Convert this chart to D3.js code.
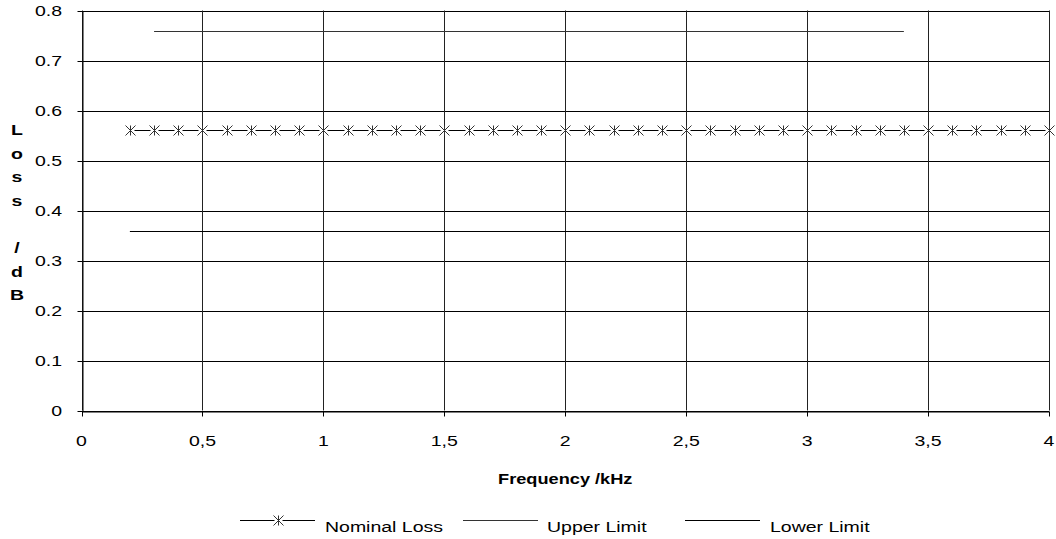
<!DOCTYPE html>
<html>
<head>
<meta charset="utf-8">
<script src="https://cdn.jsdelivr.net/npm/d3@7/dist/d3.min.js"></script>
<style>
  html, body { margin: 0; padding: 0; background: #fff; }
  svg { display: block; }
  text { font-family: "Liberation Sans", Arial, sans-serif; fill: #000; }
</style>
</head>
<body>
<svg id="chart" width="1056" height="539"></svg>
<script>
// ---- data ----
const nominalFreq = [0.2, 0.3, 0.4, 0.5, 0.6, 0.7, 0.8, 0.9, 1.0, 1.1, 1.2, 1.3, 1.4, 1.5, 1.6, 1.7, 1.8, 1.9, 2.0,
                     2.1, 2.2, 2.3, 2.4, 2.5, 2.6, 2.7, 2.8, 2.9, 3.0, 3.1, 3.2, 3.3, 3.4, 3.5, 3.6, 3.7, 3.8, 3.9, 4.0];
const nominalLoss = [0.56, 0.56, 0.56, 0.56, 0.56, 0.56, 0.56, 0.56, 0.56, 0.56, 0.56, 0.56, 0.56, 0.56, 0.56, 0.56, 0.56, 0.56, 0.56,
                     0.56, 0.56, 0.56, 0.56, 0.56, 0.56, 0.56, 0.56, 0.56, 0.56, 0.56, 0.56, 0.56, 0.56, 0.56, 0.56, 0.56, 0.56, 0.56, 0.56];
const upperFreq = [0.3, 3.4];
const upperLimit = [0.76, 0.76];
const lowerFreq = [0.2, 4.0];
const lowerLimit = [0.36, 0.36];

const xTicks = [0, 0.5, 1, 1.5, 2, 2.5, 3, 3.5, 4];
const xTickLabels = ["0", "0,5", "1", "1,5", "2", "2,5", "3", "3,5", "4"];
const yTicks = [0, 0.1, 0.2, 0.3, 0.4, 0.5, 0.6, 0.7, 0.8];
const yTickLabels = ["0", "0.1", "0.2", "0.3", "0.4", "0.5", "0.6", "0.7", "0.8"];
const seriesNames = ["Nominal Loss", "Upper Limit", "Lower Limit"];
const xTitle = "Frequency /kHz";
const yTitle = "Loss /dB";

// ---- layout ----
const svg = d3.select("#chart");
const L = 81.5, R = 1049, T = 10.5, B = 410.5;
const x = d3.scaleLinear().domain([0, 4]).range([L, R]);
const y = d3.scaleLinear().domain([0, 0.8]).range([B, T]);
const SX = 1.3; // horizontal stretch of the reference text
const px = v => Math.round(v) + 0.5;

// gridlines
svg.append("g").selectAll("line").data(yTicks).join("line")
  .attr("x1", L).attr("x2", R)
  .attr("y1", d => px(y(d))).attr("y2", d => px(y(d)))
  .attr("stroke", "#000").attr("stroke-width", 1);
svg.append("g").selectAll("line").data(xTicks).join("line")
  .attr("x1", d => px(x(d))).attr("x2", d => px(x(d)))
  .attr("y1", T).attr("y2", B)
  .attr("stroke", "#222").attr("stroke-width", 1);

// axes (lines and ticks)
const xAxis = svg.append("g").attr("transform", `translate(0,${px(B)})`)
  .call(d3.axisBottom(x).tickValues(xTicks).tickSize(5).tickSizeOuter(0).tickFormat(""));
const yAxis = svg.append("g").attr("transform", `translate(${px(L)},0)`)
  .call(d3.axisLeft(y).tickValues(yTicks).tickSize(5).tickSizeOuter(0).tickFormat(""));
[xAxis, yAxis].forEach(a => {
  a.select(".domain").attr("stroke", "#000");
  a.selectAll(".tick line").attr("stroke", "#000");
});
xAxis.selectAll(".tick").attr("transform", d => `translate(${px(x(d))},0)`);
yAxis.selectAll(".tick").attr("transform", d => `translate(0,${px(y(d))})`);

// tick labels
function stretchedText(g, tx, ty, str, anchor, size, weight) {
  return g.append("text")
    .attr("transform", `translate(${tx},${ty}) scale(${SX},1)`)
    .attr("text-anchor", anchor)
    .attr("dominant-baseline", "central")
    .attr("font-size", size)
    .attr("font-weight", weight || "normal")
    .text(str);
}
const labels = svg.append("g");
xTicks.forEach((v, i) => stretchedText(labels, x(v), 441, xTickLabels[i], "middle", 15));
yTicks.forEach((v, i) => stretchedText(labels, 62, y(v), yTickLabels[i], "end", 15));

// axis titles
stretchedText(labels, (L + R) / 2, 479, xTitle, "middle", 14, "bold");
yTitle.split("").forEach((c, i) => {
  if (c !== " ") stretchedText(labels, 17, 130 + i * 23.6, c, "middle", 15, "bold");
});

// series
const line = d3.line().x(d => x(d[0])).y(d => px(y(d[1])));
svg.append("path").datum(upperFreq.map((f, i) => [f, upperLimit[i]]))
  .attr("d", line).attr("fill", "none").attr("stroke", "#333").attr("stroke-width", 1);
svg.append("path").datum(lowerFreq.map((f, i) => [f, lowerLimit[i]]))
  .attr("d", line).attr("fill", "none").attr("stroke", "#000").attr("stroke-width", 1);
svg.append("path").datum(nominalFreq.map((f, i) => [f, nominalLoss[i]]))
  .attr("d", line).attr("fill", "none").attr("stroke", "#000").attr("stroke-width", 1);

function asterisk(g, cx, cy) {
  const s = 5;
  const p = `M${cx - s},${cy - s}L${cx + s},${cy + s}M${cx - s},${cy + s}L${cx + s},${cy - s}M${cx},${cy - s}L${cx},${cy + s}`;
  g.append("rect").attr("x", cx - 4).attr("y", cy - 1).attr("width", 8).attr("height", 2).attr("fill", "#fff");
  g.append("path").attr("d", p).attr("stroke", "#333").attr("stroke-width", 1).attr("fill", "none");
}
const marks = svg.append("g");
nominalFreq.forEach((f, i) => asterisk(marks, px(x(f)), px(y(nominalLoss[i]))));

// legend
const leg = svg.append("g");
const legY = 520.5;
const legItems = [
  { x1: 240, x2: 315, tx: 325, marker: true, color: "#000" },
  { x1: 463, x2: 538, tx: 547, marker: false, color: "#333" },
  { x1: 685, x2: 760, tx: 770, marker: false, color: "#000" }
];
legItems.forEach((it, i) => {
  leg.append("line").attr("x1", it.x1).attr("x2", it.x2).attr("y1", legY).attr("y2", legY)
    .attr("stroke", it.color).attr("stroke-width", 1);
  if (it.marker) asterisk(leg, px((it.x1 + it.x2) / 2), legY);
  stretchedText(leg, it.tx, 527, seriesNames[i], "start", 15);
});
</script>
</body>
</html>
